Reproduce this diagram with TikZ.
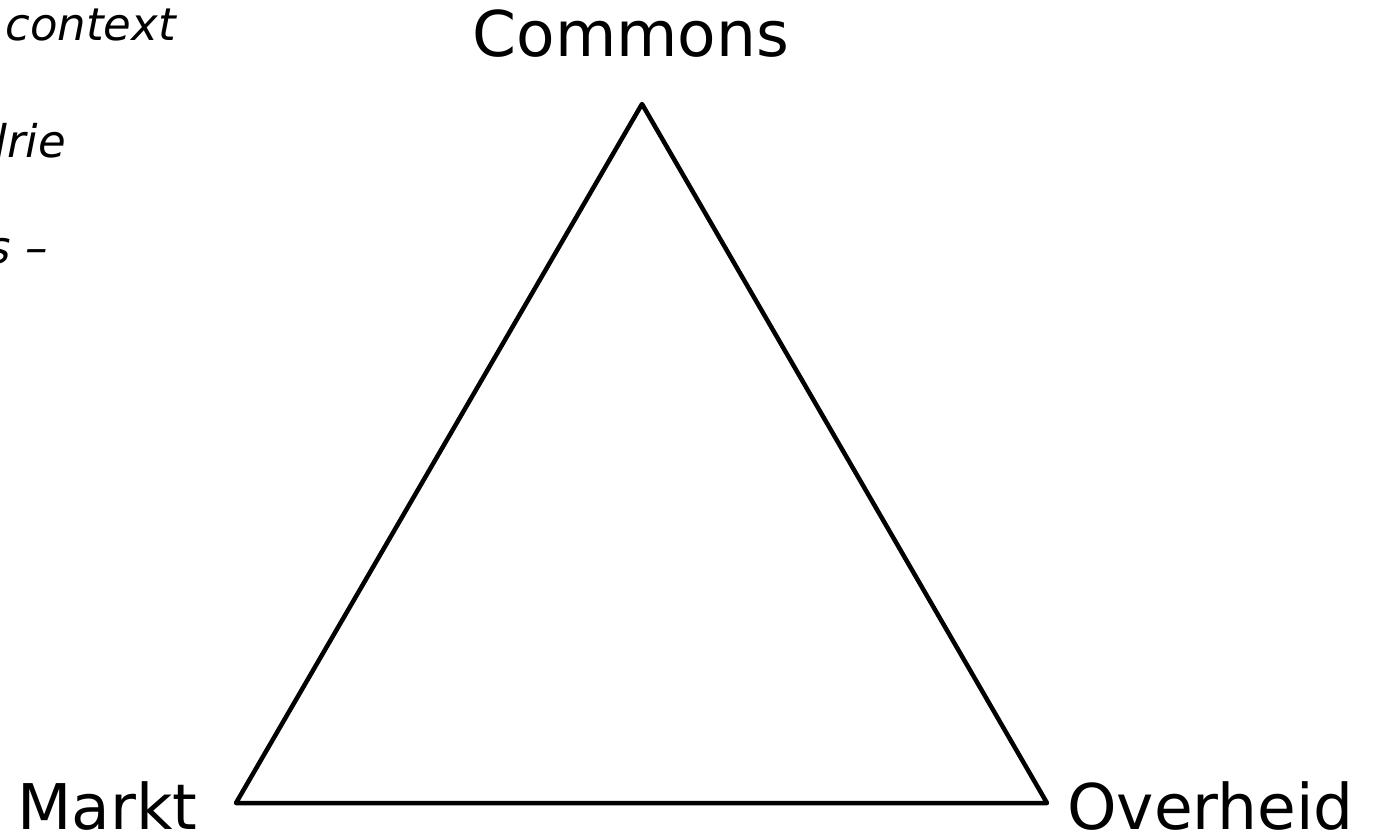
\documentclass[tikz,border=0pt]{standalone}
\usepackage{fontspec}
\setmainfont{DejaVu Sans}
\begin{document}
\begin{tikzpicture}[x=1pt,y=-1pt,
  big/.style={font=\fontsize{63}{75}\selectfont, inner sep=0pt},
  side/.style={font=\fontsize{45}{54}\selectfont\itshape, inner sep=0pt, anchor=base east},
  tri/.style={line width=4.5pt, line join=round}]
\clip (0,0) rectangle (1373,838);
\fill[white] (0,0) rectangle (1373,838);
\coordinate (A) at (642,104);
\coordinate (B) at (236,803);
\coordinate (C) at (1047,803);
\draw[tri] (A) -- (B) -- (C) -- cycle;
\node[big, anchor=base] (commons) at (631,56) {Commons};
\node[big, anchor=base west] (markt) at (17,829) {Markt};
\node[big, anchor=base west] (overheid) at (1067,829) {Overheid};
\node[side] (t1) at (176,40) {context};
\node[side] (t2) at (66,157) {drie};
\node[side] (t3) at (48,263) {s –};
\end{tikzpicture}
\end{document}
